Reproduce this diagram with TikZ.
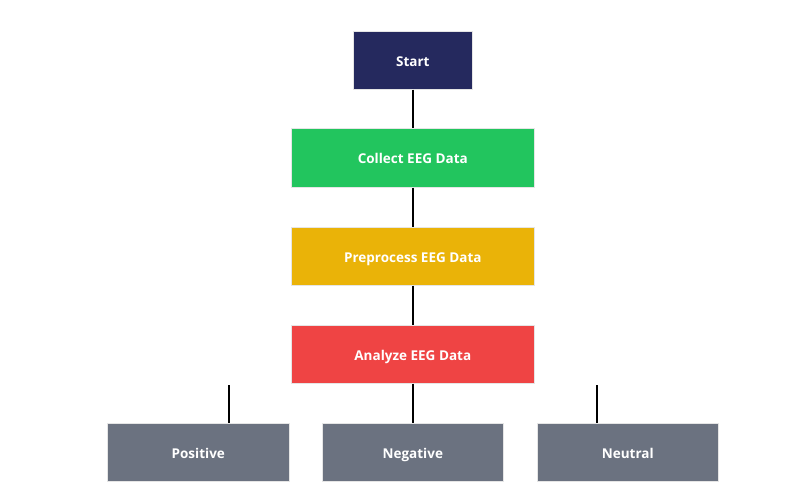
\documentclass[tikz,border=0pt]{standalone}
\usepackage{fontspec}
\setmainfont{Open Sans}
\definecolor{cnavy}{HTML}{25295E}
\definecolor{cgreen}{HTML}{22C55E}
\definecolor{cyellow}{HTML}{EAB308}
\definecolor{cred}{HTML}{EF4444}
\definecolor{cgray}{HTML}{6B7280}
\begin{document}
\begin{tikzpicture}[x=1pt,y=-1pt,
  box/.style={draw=white!80!gray,line width=0.6pt,text=white,font=\fontsize{13.5}{16}\selectfont\bfseries,inner sep=0pt,text height=13pt,text depth=1pt,anchor=north west},
  link/.style={line width=2pt,black}]
\useasboundingbox (0,0) rectangle (804,499);
\node[box,fill=cnavy,minimum width=119pt,minimum height=58pt] (start) at (353,31) {Start};
\node[box,fill=cgreen,minimum width=243pt,minimum height=59pt] (collect) at (291,128) {Collect EEG Data};
\node[box,fill=cyellow,minimum width=243pt,minimum height=58pt] (pre) at (291,227) {Preprocess EEG Data};
\node[box,fill=cred,minimum width=243pt,minimum height=58pt] (ana) at (291,325) {Analyze EEG Data};
\node[box,fill=cgray,minimum width=182pt,minimum height=58pt] (pos) at (107,423) {Positive};
\node[box,fill=cgray,minimum width=181pt,minimum height=58pt] (neg) at (322,423) {Negative};
\node[box,fill=cgray,minimum width=181pt,minimum height=58pt] (neu) at (537,423) {Neutral};
\coordinate (lp) at (229,385);
\coordinate (ln) at (597,385);
\draw[link] (start.south) -- (collect.north);
\draw[link] (collect.south) -- (pre.north);
\draw[link] (pre.south) -- (ana.north);
\draw[link] (ana.south) -- (neg.north);
\draw[link] (lp) -- (lp |- pos.north);
\draw[link] (ln) -- (ln |- neu.north);
\end{tikzpicture}
\end{document}
